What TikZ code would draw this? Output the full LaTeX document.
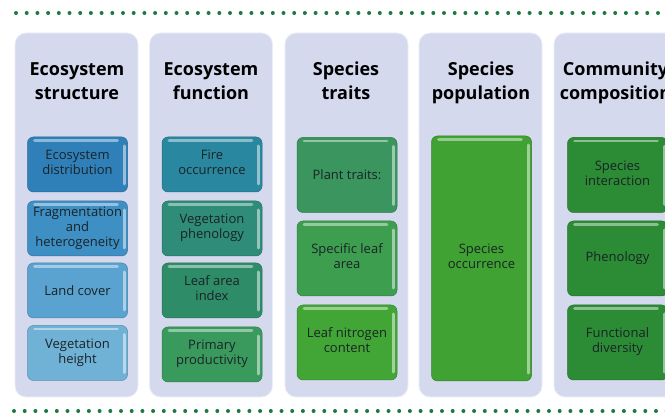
\documentclass[tikz,border=0pt]{standalone}
\usepackage{fontspec}
\setmainfont{Open Sans}
\usepackage{xcolor}
\definecolor{PanelBg}{HTML}{D4D9ED}
\definecolor{DotGreen}{HTML}{1B7A3F}
\definecolor{TextDark}{HTML}{1A2326}
\definecolor{BlueA}{HTML}{2F80B8}
\definecolor{BlueB}{HTML}{3E8FC3}
\definecolor{BlueC}{HTML}{5AA2CF}
\definecolor{BlueD}{HTML}{70B1D6}
\definecolor{TealA}{HTML}{2A87A0}
\definecolor{TealB}{HTML}{2E8C78}
\definecolor{TealC}{HTML}{2F8C68}
\definecolor{TealD}{HTML}{3A9A5E}
\definecolor{GreenA}{HTML}{3A965E}
\definecolor{GreenB}{HTML}{3E9E50}
\definecolor{GreenC}{HTML}{42A636}
\definecolor{GreenD}{HTML}{3FA232}
\definecolor{GreenE}{HTML}{2B8C35}

\begin{document}
\begin{tikzpicture}[x=1pt, y=-1pt,
    panel/.style={rectangle, rounded corners=11pt, fill=PanelBg, draw=white!55!PanelBg,
      line width=0.8pt, minimum width=123pt, minimum height=364pt},
    head/.style={inner sep=0pt, text=black, font=\fontsize{18}{24}\selectfont\bfseries},
    box/.style={rectangle, rounded corners=6pt, fill=#1, draw=#1!80!black, line width=0.5pt,
      inner sep=0pt, minimum width=100pt, text=TextDark, font=\fontsize{13}{15}\selectfont,
      path picture={
        \draw[white, opacity=0.45, line width=2.6pt, line cap=round]
          ([xshift=7pt, yshift=-3.5pt]path picture bounding box.north west)
          -- ([xshift=-10pt, yshift=-3.5pt]path picture bounding box.north east);
        \draw[white, opacity=0.5, line width=3pt, line cap=round]
          ([xshift=-3.5pt, yshift=-9pt]path picture bounding box.north east)
          -- ([xshift=-3.5pt, yshift=8pt]path picture bounding box.south east);
      }},
    short/.style={minimum height=55pt},
    tall/.style={minimum height=75pt},
  ]
  \useasboundingbox (0,0) rectangle (665,414);
  \clip (0,0) rectangle (665,414);

  \draw[DotGreen, line width=4pt, line cap=round, dash pattern=on 0pt off 10.7pt] (16,13) -- (680,13);
  \draw[DotGreen, line width=4pt, line cap=round, dash pattern=on 0pt off 10.7pt] (14,411) -- (680,411);

  \node (P1) [panel] at (76.5,215) {};
  \node (P2) [panel] at (211,215) {};
  \node (P3) [panel] at (346.5,215) {};
  \node (P4) [panel] at (480.5,215) {};
  \node (P5) [panel] at (615.5,215) {};

  \node (H1) [head] at (77,82.5) {
    \begin{tabular}{@{}c@{}}
      Ecosystem \\
      structure
    \end{tabular}
  };
  \node (H2) [head] at (211,82.5) {
    \begin{tabular}{@{}c@{}}
      Ecosystem \\
      function
    \end{tabular}
  };
  \node (H3) [head] at (346,82.5) {
    \begin{tabular}{@{}c@{}}
      Species \\
      traits
    \end{tabular}
  };
  \node (H4) [head] at (481,82.5) {
    \begin{tabular}{@{}c@{}}
      Species \\
      population
    \end{tabular}
  };
  \node (H5) [head] at (615.5,82.5) {
    \begin{tabular}{@{}c@{}}
      Community \\
      composition
    \end{tabular}
  };

  \node (ED) [box=BlueA, short] at (77.5,164.5) {
    \begin{tabular}{@{}c@{}}
      Ecosystem \\
      distribution
    \end{tabular}
  };
  \node (FH) [box=BlueB, short] at (77.5,228.5) {
    \begin{tabular}{@{}c@{}}
      Fragmentation \\
      and \\
      heterogeneity
    \end{tabular}
  };
  \node (LC) [box=BlueC, short] at (77.5,290.5) {Land cover};
  \node (VH) [box=BlueD, short] at (77.5,353) {
    \begin{tabular}{@{}c@{}}
      Vegetation \\
      height
    \end{tabular}
  };

  \node (FO) [box=TealA, short] at (212,164.5) {
    \begin{tabular}{@{}c@{}}
      Fire \\
      occurrence
    \end{tabular}
  };
  \node (VP) [box=TealB, short] at (212,228.5) {
    \begin{tabular}{@{}c@{}}
      Vegetation \\
      phenology
    \end{tabular}
  };
  \node (LA) [box=TealC, short] at (212,290.5) {
    \begin{tabular}{@{}c@{}}
      Leaf area \\
      index
    \end{tabular}
  };
  \node (PP) [box=TealD, short] at (212,354.5) {
    \begin{tabular}{@{}c@{}}
      Primary \\
      productivity
    \end{tabular}
  };

  \node (PT) [box=GreenA, tall] at (347,175) {Plant traits:};
  \node (SL) [box=GreenB, tall] at (347,258.5) {
    \begin{tabular}{@{}c@{}}
      Specific leaf \\
      area
    \end{tabular}
  };
  \node (LN) [box=GreenC, tall] at (347,342.5) {
    \begin{tabular}{@{}c@{}}
      Leaf nitrogen \\
      content
    \end{tabular}
  };

  \node (SO) [box=GreenD, minimum height=245pt] at (481.5,258.5) {
    \begin{tabular}{@{}c@{}}
      Species \\
      occurrence
    \end{tabular}
  };

  \node (SI) [box=GreenE, tall] at (617.5,175) {
    \begin{tabular}{@{}c@{}}
      Species \\
      interaction
    \end{tabular}
  };
  \node (PH) [box=GreenE, tall] at (617.5,258.5) {Phenology};
  \node (FD) [box=GreenE, tall] at (617.5,342.5) {
    \begin{tabular}{@{}c@{}}
      Functional \\
      diversity
    \end{tabular}
  };
\end{tikzpicture}
\end{document}
